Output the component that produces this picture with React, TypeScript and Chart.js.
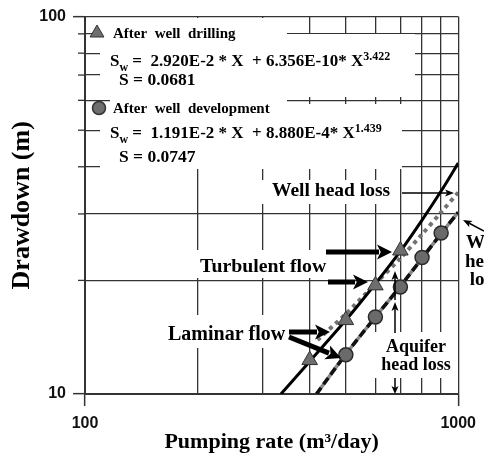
import React, { useEffect, useRef } from 'react';
import { Chart, registerables } from 'chart.js';
Chart.register(...registerables);

// ---- data ----
const xTicks = [100, 200, 300, 400, 500, 600, 700, 800, 900, 1000];
const yTicks = [10, 20, 30, 40, 50, 60, 70, 80, 90, 100];
const xLabelValues = [100, 1000];
const yLabelValues = [10, 100];

const drillQ = [400, 500, 600, 700];
const drillS = [12.3, 15.7, 19.4, 24.0];
const devQ = [500, 600, 700, 800, 900];
const devS = [12.7, 16.0, 19.2, 23.0, 26.7];

const drillFitQ = [335, 400, 500, 600, 700, 800, 900, 1000];
const drillFitS = [10.0, 12.2, 15.7, 19.6, 23.9, 28.9, 34.5, 40.9];
const devFitQ = [417, 500, 600, 700, 800, 900, 1000];
const devFitS = [10.0, 12.75, 16.0, 19.3, 22.9, 26.6, 30.3];
const headLossQ = [420, 500, 600, 700, 800, 900, 1000];
const headLossS = [13.9, 16.3, 19.6, 22.9, 26.5, 30.3, 34.2];

const SERIF = '"Liberation Serif", "Times New Roman", serif';
const SANS = '"Liberation Sans", Arial, sans-serif';

const pts = (xs: number[], ys: number[]) => xs.map((x, i) => ({ x, y: ys[i] }));

function arrow(ctx: CanvasRenderingContext2D, x1: number, y1: number, x2: number, y2: number, lw: number, hl: number, hw: number) {
  const a = Math.atan2(y2 - y1, x2 - x1);
  const bx = x2 - Math.cos(a) * hl;
  const by = y2 - Math.sin(a) * hl;
  ctx.save();
  ctx.strokeStyle = '#000';
  ctx.fillStyle = '#000';
  ctx.lineWidth = lw;
  ctx.beginPath();
  ctx.moveTo(x1, y1);
  ctx.lineTo(bx + Math.cos(a) * 2, by + Math.sin(a) * 2);
  ctx.stroke();
  ctx.beginPath();
  ctx.moveTo(x2, y2);
  ctx.lineTo(bx + Math.sin(a) * hw / 2, by - Math.cos(a) * hw / 2);
  ctx.lineTo(bx + Math.cos(a) * hl * 0.25, by + Math.sin(a) * hl * 0.25);
  ctx.lineTo(bx - Math.sin(a) * hw / 2, by + Math.cos(a) * hw / 2);
  ctx.closePath();
  ctx.fill();
  ctx.restore();
}

type Seg = [string, number, number];
function rich(ctx: CanvasRenderingContext2D, x: number, y: number, segs: Seg[]) {
  let cx = x;
  ctx.textAlign = 'left';
  ctx.textBaseline = 'alphabetic';
  for (const [t, size, dy] of segs) {
    ctx.font = `bold ${size}px ${SERIF}`;
    ctx.fillText(t, cx, y + dy);
    cx += ctx.measureText(t).width;
  }
}

function text(ctx: CanvasRenderingContext2D, t: string, x: number, y: number, size: number, align: CanvasTextAlign = 'left') {
  ctx.font = `bold ${size}px ${SERIF}`;
  ctx.textAlign = align;
  ctx.textBaseline = 'alphabetic';
  ctx.fillText(t, x, y);
}

const boxes: [number, number, number, number][] = [
  [100, 18, 287, 42],
  [100, 34, 415, 97],
  [110, 97, 287, 118],
  [100, 104, 402, 169],
  [262, 180, 400, 204],
  [187, 250, 330, 278],
  [160, 315, 290, 348],
  [368, 332, 458, 378],
];

const annotPlugin = {
  id: 'annot',
  beforeDatasetsDraw(chart: any) {
    const ctx = chart.ctx as CanvasRenderingContext2D;
    ctx.save();
    ctx.fillStyle = '#fff';
    for (const [x1, y1, x2, y2] of boxes) ctx.fillRect(x1, y1, x2 - x1, y2 - y1);
    ctx.restore();
  },
  afterDatasetsDraw(chart: any) {
    const ctx = chart.ctx as CanvasRenderingContext2D;
    ctx.save();
    // legend markers
    ctx.fillStyle = '#6e6e6e';
    ctx.strokeStyle = '#333';
    ctx.lineWidth = 1;
    const tx = 97, ty = 33, r = 8;
    ctx.beginPath();
    ctx.moveTo(tx, ty - r);
    ctx.lineTo(tx + r * 0.866, ty + r * 0.5);
    ctx.lineTo(tx - r * 0.866, ty + r * 0.5);
    ctx.closePath();
    ctx.fill();
    ctx.stroke();
    ctx.beginPath();
    ctx.arc(99, 108, 6.5, 0, Math.PI * 2);
    ctx.fill();
    ctx.lineWidth = 1.5;
    ctx.stroke();

    ctx.fillStyle = '#000';
    text(ctx, 'After  well  drilling', 113, 38, 15);
    rich(ctx, 110, 66, [['S', 17, 0], ['w', 12, 5], [' =  2.920E-2 * X  + 6.356E-10* X', 17, 0], ['3.422', 12, -6]]);
    text(ctx, 'S = 0.0681', 119, 85, 17.5);
    text(ctx, 'After  well  development', 113, 113, 15);
    rich(ctx, 110, 138, [['S', 17, 0], ['w', 12, 5], [' =  1.191E-2 * X  + 8.880E-4* X', 17, 0], ['1.439', 12, -6]]);
    text(ctx, 'S = 0.0747', 119, 162, 17.5);

    // annotations
    text(ctx, 'Well head loss', 272, 196, 19.5);
    text(ctx, 'Turbulent flow', 200, 272, 19.8);
    text(ctx, 'Laminar flow', 168, 340, 20);
    text(ctx, 'Aquifer', 416, 352, 18, 'center');
    text(ctx, 'head loss', 416, 370, 18, 'center');
    text(ctx, 'Well', 484.5, 248, 19, 'center');
    text(ctx, 'head', 484.5, 267, 19, 'center');
    text(ctx, 'loss', 484.5, 285, 19, 'center');

    arrow(ctx, 402, 193, 454, 193, 1.5, 9, 7);
    arrow(ctx, 484, 231, 463, 220, 1.5, 9, 7);
    arrow(ctx, 326, 252, 392, 252, 5, 15, 15);
    arrow(ctx, 328, 282, 368, 282, 5, 15, 15);
    arrow(ctx, 289, 332, 330, 332, 5, 15, 15);
    arrow(ctx, 289, 337, 341, 358, 5, 15, 15);
    arrow(ctx, 395, 333, 395, 302, 1.5, 9, 7);
    arrow(ctx, 395, 300, 395, 271, 1.5, 9, 7);
    arrow(ctx, 395, 378, 395, 394, 1.5, 8, 7);
    ctx.restore();
  },
  afterDraw(chart: any) {
    const ctx = chart.ctx as CanvasRenderingContext2D;
    const ys = chart.scales.y;
    const left = chart.chartArea.left;
    ctx.save();
    ctx.strokeStyle = '#333';
    ctx.lineWidth = 1.3;
    for (const v of yTicks) {
      if (yLabelValues.includes(v)) continue;
      const py = ys.getPixelForValue(v);
      ctx.beginPath();
      ctx.moveTo(left - 7, py);
      ctx.lineTo(left, py);
      ctx.stroke();
    }
    ctx.restore();
  },
};

export default function App() {
  const ref = useRef<HTMLCanvasElement>(null);
  useEffect(() => {
    const tickColor = (vals: number[]) => (c: any) => (c.tick && vals.includes(c.tick.value) ? '#333' : 'rgba(0,0,0,0)');
    const chart = new Chart(ref.current as HTMLCanvasElement, {
      type: 'scatter',
      data: {
        datasets: [
          {
            label: 'After well drilling',
            data: pts(drillQ, drillS),
            pointStyle: 'triangle',
            pointRadius: 9,
            backgroundColor: '#6e6e6e',
            borderColor: '#333',
            borderWidth: 1,
            showLine: false,
          },
          {
            label: 'After well development',
            data: pts(devQ, devS),
            pointStyle: 'circle',
            pointRadius: 7,
            backgroundColor: '#6a6a6a',
            borderColor: '#2a2a2a',
            borderWidth: 1.5,
            showLine: false,
          },
          {
            label: 'drill fit',
            data: pts(drillFitQ, drillFitS),
            showLine: true,
            borderColor: '#000',
            borderWidth: 3,
            pointRadius: 0,
            tension: 0.3,
          },
          {
            label: 'dev fit dash',
            data: pts(devFitQ, devFitS),
            showLine: true,
            borderColor: '#111',
            borderWidth: 3.5,
            borderDash: [8, 4],
            pointRadius: 0,
            tension: 0.3,
          },
          {
            label: 'dev fit base',
            data: pts(devFitQ, devFitS),
            showLine: true,
            borderColor: '#8a8a8a',
            borderWidth: 3.5,
            pointRadius: 0,
            tension: 0.3,
          },
          {
            label: 'head loss',
            data: pts(headLossQ, headLossS),
            showLine: true,
            borderColor: '#737373',
            borderWidth: 4,
            borderDash: [4, 4],
            pointRadius: 0,
            tension: 0.3,
          },
        ],
      },
      options: {
        responsive: false,
        animation: false,
        events: [],
        layout: { padding: { left: 0, top: 16, right: 23, bottom: 0 } },
        plugins: { legend: { display: false }, tooltip: { enabled: false } },
        scales: {
          x: {
            type: 'logarithmic',
            min: 100,
            max: 1000,
            afterBuildTicks: (s: any) => {
              s.ticks = xTicks.map((v) => ({ value: v }));
            },
            afterFit: (s: any) => {
              s.height = 63;
            },
            ticks: {
              autoSkip: false,
              maxRotation: 0,
              padding: 8,
              color: '#111',
              font: { family: SANS, size: 16, weight: 'bold' },
              callback: (v: any) => (xLabelValues.includes(Number(v)) ? String(v) : ''),
            },
            grid: { color: '#333', lineWidth: 1.3, tickLength: 12, tickWidth: 1.5, tickColor: tickColor(xLabelValues) },
            border: { color: '#333', width: 2 },
            title: {
              display: true,
              text: 'Pumping rate (m³/day)',
              color: '#000',
              font: { family: SERIF, size: 22, weight: 'bold' },
              padding: { top: 0, bottom: 1 },
            },
          },
          y: {
            type: 'logarithmic',
            min: 10,
            max: 100,
            afterBuildTicks: (s: any) => {
              s.ticks = yTicks.map((v) => ({ value: v }));
            },
            afterFit: (s: any) => {
              s.width = 85;
            },
            ticks: {
              autoSkip: false,
              padding: 7,
              color: '#111',
              font: { family: SANS, size: 16, weight: 'bold' },
              callback: (v: any) => (yLabelValues.includes(Number(v)) ? String(v) : ''),
            },
            grid: { color: '#333', lineWidth: 1.3, tickLength: 12, tickWidth: 1.5, tickColor: tickColor(yLabelValues) },
            border: { color: '#333', width: 2 },
            title: {
              display: true,
              text: 'Drawdown (m)',
              color: '#000',
              font: { family: SERIF, size: 26, weight: 'bold' },
              padding: { top: 7, bottom: 0 },
            },
          },
        },
      } as any,
      plugins: [annotPlugin],
    });
    return () => chart.destroy();
  }, []);
  return (
    <div style={{ position: 'fixed', left: 0, top: 0, width: 484, height: 457, background: '#fff' }}>
      <canvas ref={ref} width={484} height={457} style={{ width: 484, height: 457, display: 'block' }} />
    </div>
  );
}
